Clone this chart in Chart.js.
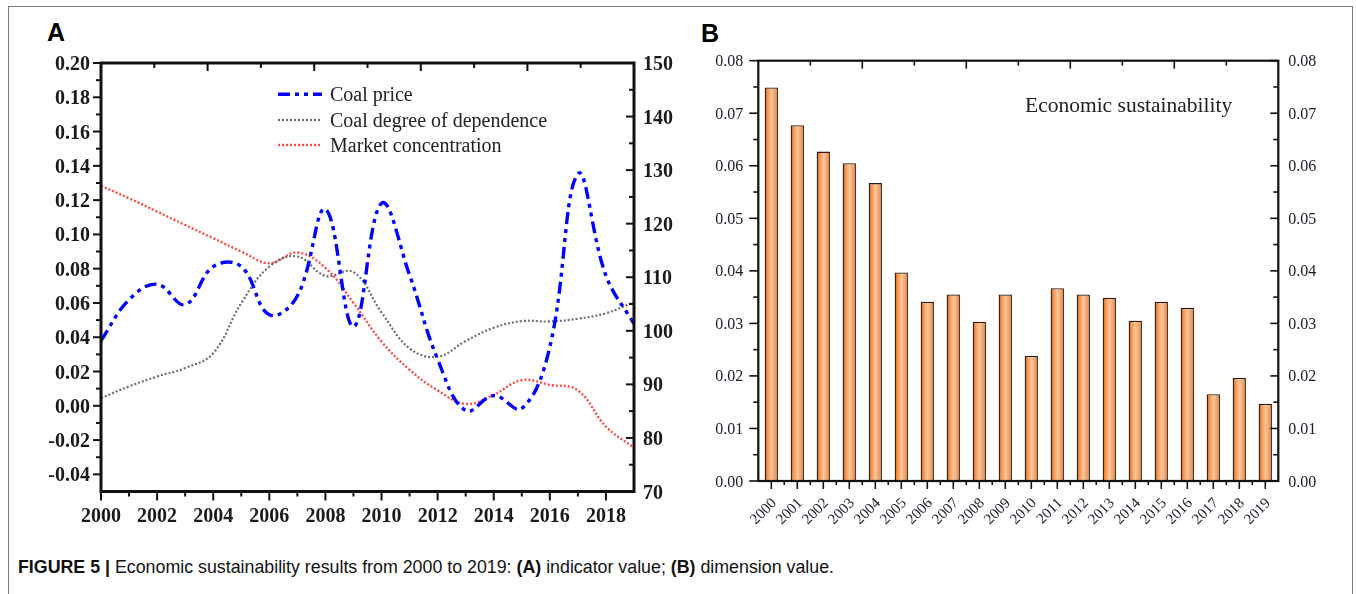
<!DOCTYPE html>
<html>
<head>
<meta charset="utf-8">
<script src="https://cdn.jsdelivr.net/npm/chart.js@4.4.1/dist/chart.umd.min.js"></script>
<style>
  html, body { margin: 0; padding: 0; background: #fff; }
  body { width: 1356px; height: 594px; position: relative; overflow: hidden; }
  #frame { position: absolute; left: 8px; top: 6px; width: 1345px; height: 620px; border: 1px solid #7a7a7a; box-sizing: border-box; }
  .tag { position: absolute; font: bold 25px "Liberation Sans", Arial, sans-serif; line-height: 25px; color: #000; }
  #boxA { position: absolute; left: 20px; top: 41px; width: 680px; height: 500px; }
  #boxB { position: absolute; left: 690px; top: 40px; width: 660px; height: 510px; }
  #caption { position: absolute; left: 18px; top: 558px; font: 18.5px "Liberation Sans Narrow", "Liberation Sans", Arial, sans-serif; line-height: 18px; white-space: nowrap; transform-origin: 0 0; color: #111; }
</style>
</head>
<body>
<div id="frame"></div>
<div class="tag" style="left:47px;top:20px;">A</div>
<div class="tag" style="left:701px;top:21px;">B</div>
<div id="boxA"><canvas id="chartA"></canvas></div>
<div id="boxB"><canvas id="chartB"></canvas></div>
<div id="caption"><b>FIGURE 5 |</b> Economic sustainability results from 2000 to 2019: <b>(A)</b> indicator value; <b>(B)</b> dimension value.</div>

<script>
// ---------- Panel A: indicator values ----------
const yearsA = [2000, 2001, 2002, 2003, 2004, 2005, 2006, 2007, 2008, 2009,
                2010, 2011, 2012, 2013, 2014, 2015, 2016, 2017, 2018, 2019];
const coalPrice = [98.2, 105.8, 108.7, 104.9, 112.0, 112.0, 103.0, 106.5, 122.7, 100.8,
                   123.8, 110.4, 94.7, 85.1, 87.9, 85.5, 97.0, 129.3, 110.3, 101.3];
const coalDependence = [0.0045, 0.0113, 0.0171, 0.0220, 0.0307, 0.0599, 0.0812, 0.0871, 0.0758, 0.0780,
                        0.0545, 0.0335, 0.0286, 0.0378, 0.0455, 0.0494, 0.0492, 0.0508, 0.0540, 0.0606];
const marketConcentration = [0.1283, 0.1211, 0.1133, 0.1055, 0.0978, 0.0900, 0.0832, 0.0894, 0.0805, 0.0600,
                             0.0375, 0.0210, 0.0090, 0.0011, 0.0064, 0.0150, 0.0122, 0.0090, -0.0121, -0.0245];
const seriesNamesA = ['Coal price', 'Coal degree of dependence', 'Market concentration'];
const leftTicksA = [-0.04, -0.02, 0.00, 0.02, 0.04, 0.06, 0.08, 0.10, 0.12, 0.14, 0.16, 0.18, 0.20];
const rightTicksA = [70, 80, 90, 100, 110, 120, 130, 140, 150];
const bottomTicksA = [2000, 2002, 2004, 2006, 2008, 2010, 2012, 2014, 2016, 2018];

// ---------- Panel B: dimension value ----------
const yearsB = ['2000', '2001', '2002', '2003', '2004', '2005', '2006', '2007', '2008', '2009',
                '2010', '2011', '2012', '2013', '2014', '2015', '2016', '2017', '2018', '2019'];
const economicSustainability = [0.0749, 0.0677, 0.0627, 0.0605, 0.0567, 0.0397, 0.0341, 0.0355, 0.0303, 0.0355,
                                0.0238, 0.0367, 0.0355, 0.0349, 0.0305, 0.0341, 0.0330, 0.0165, 0.0196, 0.0147];
const ticksB = [0.00, 0.01, 0.02, 0.03, 0.04, 0.05, 0.06, 0.07, 0.08];
const panelBTitle = 'Economic sustainability';

const SERIF = '"Liberation Serif", "Times New Roman", Times, serif';

function seg(ctx, x1, y1, x2, y2) {
  ctx.beginPath(); ctx.moveTo(x1, y1); ctx.lineTo(x2, y2); ctx.stroke();
}
function mids(arr) {
  const out = [];
  for (let i = 0; i < arr.length - 1; i++) out.push((arr[i] + arr[i + 1]) / 2);
  return out;
}

// Frame, ticks, tick labels and legend for panel A
const axesA = {
  id: 'axesA',
  afterDatasetsDraw(chart) {
    const { ctx, chartArea: a, scales } = chart;
    const sx = scales.x, sy = scales.y, sr = scales.y2;
    ctx.save();
    ctx.strokeStyle = '#111';
    ctx.lineWidth = 2;
    ctx.lineCap = 'butt';
    // left axis: outward ticks
    leftTicksA.forEach(v => { const y = sy.getPixelForValue(v); seg(ctx, a.left, y, a.left - 8, y); });
    mids(leftTicksA).forEach(v => { const y = sy.getPixelForValue(v); seg(ctx, a.left, y, a.left - 5, y); });
    // right axis: inward ticks
    rightTicksA.forEach(v => { const y = sr.getPixelForValue(v); seg(ctx, a.right, y, a.right - 8, y); });
    mids(rightTicksA).forEach(v => { const y = sr.getPixelForValue(v); seg(ctx, a.right, y, a.right - 5, y); });
    // bottom axis: outward ticks
    bottomTicksA.forEach(v => { const x = sx.getPixelForValue(v); seg(ctx, x, a.bottom, x, a.bottom + 9); });
    mids(bottomTicksA).forEach(v => { const x = sx.getPixelForValue(v); seg(ctx, x, a.bottom, x, a.bottom + 5); });
    // top axis: ten equal divisions, inward ticks
    for (let k = 1; k < 10; k++) {
      const x = a.left + a.width * k / 10;
      seg(ctx, x, a.top, x, a.top + (k % 2 === 0 ? 8 : 5));
    }
    // frame
    ctx.lineWidth = 3;
    ctx.strokeRect(a.left, a.top, a.width, a.height);

    // tick labels
    ctx.fillStyle = '#1a1a1a';
    ctx.font = 'bold 20px ' + SERIF;
    ctx.textBaseline = 'alphabetic';
    ctx.textAlign = 'right';
    leftTicksA.forEach(v => ctx.fillText(v.toFixed(2), a.left - 11, sy.getPixelForValue(v) + 7));
    ctx.textAlign = 'left';
    rightTicksA.forEach(v => ctx.fillText(String(v), a.right + 9, sr.getPixelForValue(v) + 7));
    ctx.textAlign = 'center';
    bottomTicksA.forEach(v => ctx.fillText(String(v), sx.getPixelForValue(v), a.bottom + 30));

    // legend
    const rows = [31.3, 57, 82];
    ctx.font = '20px ' + SERIF;
    ctx.textAlign = 'left';
    chart.data.datasets.forEach((ds, i) => {
      const y = a.top + rows[i];
      ctx.save();
      ctx.strokeStyle = ds.borderColor;
      ctx.lineWidth = ds.borderWidth;
      ctx.setLineDash(ds.borderDash || []);
      seg(ctx, a.left + 177, y, a.left + 221, y);
      ctx.restore();
      ctx.fillStyle = '#222';
      ctx.fillText(ds.label, a.left + 229, y + 7);
    });
    ctx.restore();
  }
};

const toPoints = vals => vals.map((v, i) => ({ x: yearsA[i], y: v }));

new Chart(document.getElementById('chartA'), {
  type: 'line',
  data: {
    datasets: [
      { label: seriesNamesA[0], data: toPoints(coalPrice), yAxisID: 'y2',
        borderColor: '#0000ff', borderWidth: 3.4, borderDash: [12, 5, 4, 5, 4, 5] },
      { label: seriesNamesA[1], data: toPoints(coalDependence), yAxisID: 'y',
        borderColor: '#6e6e6e', borderWidth: 2.2, borderDash: [2, 2] },
      { label: seriesNamesA[2], data: toPoints(marketConcentration), yAxisID: 'y',
        borderColor: '#ff4a4a', borderWidth: 2.4, borderDash: [2, 2] }
    ]
  },
  options: {
    responsive: true, maintainAspectRatio: false, animation: false, events: [],
    layout: { padding: { top: 22, left: 0, right: 0, bottom: 0 } },
    elements: { point: { radius: 0 }, line: { tension: 0.4, fill: false } },
    plugins: { legend: { display: false }, tooltip: { enabled: false } },
    scales: {
      x: { type: 'linear', min: 2000, max: 2019, position: 'bottom',
           ticks: { display: false }, grid: { display: false, drawTicks: false }, border: { display: false },
           afterFit: s => { s.height = 49.5; } },
      y: { type: 'linear', min: -0.05, max: 0.20, position: 'left',
           ticks: { display: false }, grid: { display: false, drawTicks: false }, border: { display: false },
           afterFit: s => { s.width = 81; } },
      y2: { type: 'linear', min: 70, max: 150, position: 'right',
            ticks: { display: false }, grid: { display: false, drawTicks: false }, border: { display: false },
            afterFit: s => { s.width = 66; } }
    }
  },
  plugins: [axesA]
});

// Frame, ticks, tick labels and inner title for panel B
const axesB = {
  id: 'axesB',
  afterDatasetsDraw(chart) {
    const { ctx, chartArea: a, scales } = chart;
    const sx = scales.x, sy = scales.y;
    const n = yearsB.length;
    const step = a.width / n;
    ctx.save();
    ctx.strokeStyle = '#111';
    ctx.lineWidth = 1.6;
    // left axis outward, right axis inward
    ticksB.forEach(v => {
      const y = sy.getPixelForValue(v);
      seg(ctx, a.left, y, a.left - 9, y);
      seg(ctx, a.right, y, a.right - 8, y);
    });
    mids(ticksB).forEach(v => {
      const y = sy.getPixelForValue(v);
      seg(ctx, a.left, y, a.left - 5, y);
      seg(ctx, a.right, y, a.right - 5, y);
    });
    // bottom: major at each category, minor between categories
    yearsB.forEach((_, i) => { const x = sx.getPixelForValue(i); seg(ctx, x, a.bottom, x, a.bottom + 8); });
    for (let k = 1; k < n; k++) { const x = a.left + step * k; seg(ctx, x, a.bottom, x, a.bottom + 4); }
    // top: inward ticks every second boundary
    for (let k = 2; k < n; k += 2) {
      const x = a.left + step * k;
      seg(ctx, x, a.top, x, a.top + (k % 4 === 0 ? 8 : 5));
    }
    ctx.lineWidth = 2.2;
    ctx.strokeRect(a.left, a.top, a.width, a.height);

    // tick labels
    ctx.fillStyle = '#1b1b2b';
    ctx.font = '16px ' + SERIF;
    ctx.textBaseline = 'alphabetic';
    ctx.textAlign = 'right';
    ticksB.forEach(v => ctx.fillText(v.toFixed(2), a.left - 15, sy.getPixelForValue(v) + 5.5));
    ctx.textAlign = 'left';
    ticksB.forEach(v => ctx.fillText(v.toFixed(2), a.right + 10, sy.getPixelForValue(v) + 5.5));
    ctx.font = '15px ' + SERIF;
    ctx.textAlign = 'right';
    ctx.textBaseline = 'middle';
    yearsB.forEach((lab, i) => {
      ctx.save();
      ctx.translate(sx.getPixelForValue(i) + 3, a.bottom + 20);
      ctx.rotate(-Math.PI / 4);
      ctx.fillText(lab, 0, 0);
      ctx.restore();
    });
    // inner title
    ctx.fillStyle = '#222';
    ctx.font = '21.5px ' + SERIF;
    ctx.textAlign = 'left';
    ctx.textBaseline = 'alphabetic';
    ctx.fillText(panelBTitle, a.left + 266.7, a.top + 51);
    ctx.restore();
  }
};

function barFill(c) {
  const ch = c.chart;
  if (!ch.chartArea || c.type !== 'data') return '#f7a66a';
  const sx = ch.scales.x;
  const x = sx.getPixelForValue(c.dataIndex);
  const w = (sx.width / yearsB.length) * 0.51;
  const g = ch.ctx.createLinearGradient(x - w / 2, 0, x + w / 2, 0);
  g.addColorStop(0.0, '#e05a12');
  g.addColorStop(0.22, '#f2944f');
  g.addColorStop(0.5, '#ffc698');
  g.addColorStop(0.78, '#f5a368');
  g.addColorStop(1.0, '#e46a24');
  return g;
}

new Chart(document.getElementById('chartB'), {
  type: 'bar',
  data: {
    labels: yearsB,
    datasets: [{
      label: panelBTitle,
      data: economicSustainability,
      backgroundColor: barFill,
      borderColor: '#2a1a10',
      borderWidth: 1.3,
      borderSkipped: false,
      barPercentage: 0.51,
      categoryPercentage: 1.0
    }]
  },
  options: {
    responsive: true, maintainAspectRatio: false, animation: false, events: [],
    layout: { padding: { top: 20.7, left: 0, right: 0, bottom: 0 } },
    plugins: { legend: { display: false }, tooltip: { enabled: false } },
    scales: {
      x: { type: 'category', offset: true,
           ticks: { display: false }, grid: { display: false, drawTicks: false, offset: true }, border: { display: false },
           afterFit: s => { s.height = 69; } },
      y: { type: 'linear', min: 0, max: 0.08, position: 'left',
           ticks: { display: false }, grid: { display: false, drawTicks: false }, border: { display: false },
           afterFit: s => { s.width = 68.3; } },
      y2: { type: 'linear', min: 0, max: 0.08, position: 'right',
            ticks: { display: false }, grid: { display: false, drawTicks: false }, border: { display: false },
            afterFit: s => { s.width = 71.7; } }
    }
  },
  plugins: [axesB]
});

// condensed caption width
(function () {
  const cap = document.getElementById('caption');
  const w = cap.getBoundingClientRect().width;
  cap.style.transform = 'scaleX(' + (816 / w) + ')';
})();
</script>
</body>
</html>
